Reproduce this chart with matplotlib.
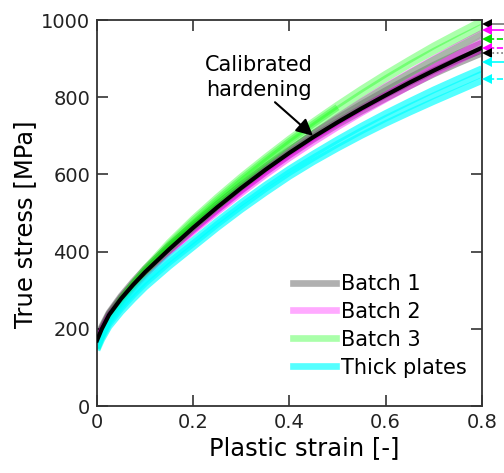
import matplotlib
matplotlib.use("Agg")
import matplotlib.pyplot as plt
from matplotlib.lines import Line2D

# Plastic strain sampling points
strain = [0.0, 0.01, 0.025, 0.05, 0.075, 0.1, 0.15, 0.2, 0.25, 0.3, 0.35, 0.4,
          0.45, 0.5, 0.55, 0.6, 0.65, 0.7, 0.75, 0.8]

# Calibrated hardening curve [MPa]
calibrated = [170, 200, 236, 278, 314, 347, 406, 462, 515, 565, 612, 656,
              697, 735, 771, 805, 838, 869, 899, 928]

# Batch 1 specimens [MPa]
batch1 = [
    [168, 197, 233, 274, 310, 343, 402, 457, 509, 559, 606, 650, 691, 729, 764, 797, 829, 860, 888, 914],
    [172, 202, 239, 281, 317, 350, 410, 464, 516, 566, 613, 657, 698, 736, 772, 806, 838, 869, 897, 922],
    [175, 206, 242, 285, 322, 356, 416, 470, 523, 573, 620, 664, 706, 745, 782, 817, 851, 883, 913, 940],
]
# Batch 2 specimens [MPa]
batch2 = [
    [162, 192, 228, 270, 306, 339, 398, 452, 503, 552, 599, 643, 684, 723, 760, 795, 829, 862, 894, 925],
    [163, 193, 230, 272, 308, 342, 401, 456, 508, 558, 606, 651, 694, 734, 772, 808, 843, 878, 913, 948],
    [164, 195, 232, 274, 311, 345, 404, 460, 513, 564, 613, 660, 705, 748, 789, 828, 864, 899, 933, 966],
]
# Batch 3 specimens [MPa]; the last one stops at 0.5 strain
batch3 = [
    [150, 182, 221, 266, 305, 340, 404, 462, 516, 567, 616, 662, 706, 748, 788, 826, 862, 897, 930, 962],
    [148, 182, 222, 269, 310, 347, 413, 473, 529, 582, 632, 680, 725, 768, 809, 848, 885, 919, 951, 982],
    [152, 187, 228, 277, 318, 356, 424, 485, 541, 594, 644, 692, 737, 780, 821, 860, 897, 933, 966, 998],
    [151, 186, 226, 274, 315, 352, 419, 480, 535, 588, 638, 686, 731, 774],
]
# Thick plate specimens [MPa]
thick = [
    [145, 173, 206, 244, 277, 308, 362, 412, 462, 509, 553, 595, 633, 668, 701, 732, 761, 789, 816, 843],
    [150, 178, 213, 253, 287, 318, 372, 421, 471, 518, 563, 605, 643, 679, 713, 745, 775, 804, 832, 860],
    [155, 184, 219, 259, 294, 325, 380, 429, 479, 527, 572, 614, 653, 690, 725, 758, 789, 819, 847, 874],
]

# Ultimate stress markers beyond the right axis edge [MPa]
uts_values = [990, 975, 952, 927, 914, 892, 847]
uts_marker_colors = ["black", "magenta", "#00dd00", "magenta", "black", "cyan", "cyan"]
uts_line_colors = ["#777777", "magenta", "#00dd00", "magenta", "#777777", "cyan", "cyan"]
uts_line_styles = ["-", "-", "--", "--", ":", "-", "--"]

legend_labels = ["Batch 1", "Batch 2", "Batch 3", "Thick plates"]
x_ticks = [0, 0.2, 0.4, 0.6, 0.8]
x_tick_labels = ["0", "0.2", "0.4", "0.6", "0.8"]
y_ticks = [0, 200, 400, 600, 800, 1000]

plt.rcParams["font.family"] = ["DejaVu Sans"]

fig = plt.figure(figsize=(5.04, 4.73), dpi=100)
ax = fig.add_axes([0.1925, 0.1416, 0.7635, 0.8161])

# (curves, colour, line alpha, legend colour)
band_styles = [
    (batch1, "#000000", 0.32, "#b0b0b0"),
    (batch2, "#ff00ff", 0.42, "#ffaaff"),
    (batch3, "#00ff00", 0.33, "#aaffaa"),
    (thick, "#00ffff", 0.67, "#55ffff"),
]
lw_band = 4.8
for curves, color, alpha, _ in band_styles:
    for c in curves:
        ax.plot(strain[:len(c)], c, color=color, alpha=alpha, lw=lw_band,
                solid_capstyle="butt")

ax.plot(strain, calibrated, color="black", lw=3.0, zorder=5)

# markers and guide lines to the right of the plotting area
for v, mc, lc, ls in zip(uts_values, uts_marker_colors, uts_line_colors, uts_line_styles):
    ax.plot([0.812, 0.9], [v, v], color=lc, ls=ls, lw=1.2, clip_on=False, zorder=6)
    ax.plot([0.8115], [v], marker="<", color=mc, ms=7.5, clip_on=False, zorder=7,
            markeredgewidth=0)

ax.text(0.337, 852, "Calibrated\nhardening", ha="center", va="center",
        fontsize=15, linespacing=1.3)
ax.annotate("", xy=(0.449, 700), xytext=(0.370, 787),
            arrowprops=dict(arrowstyle="-|>", color="black", lw=1.5,
                            mutation_scale=25, shrinkA=0, shrinkB=0))

handles = [Line2D([], [], color=lc, lw=lw_band) for _, _, _, lc in band_styles]
ax.legend(handles, legend_labels, loc="lower right", frameon=False, fontsize=15,
          handlelength=2.1, handletextpad=0.25, labelspacing=0.38,
          borderaxespad=0.3, bbox_to_anchor=(1.0, 0.036))

ax.set_xlim(0, 0.8)
ax.set_ylim(0, 1000)
ax.set_xticks(x_ticks)
ax.set_xticklabels(x_tick_labels)
ax.set_yticks(y_ticks)
ax.tick_params(direction="in", top=True, right=True, length=8, width=1.1,
               labelsize=14, colors="#222222", pad=5)
for sp in ax.spines.values():
    sp.set_linewidth(1.3)
    sp.set_color("#333333")

ax.set_xlabel("Plastic strain [-]", fontsize=17.5, labelpad=3)
ax.set_ylabel("True stress [MPa]", fontsize=17.5, labelpad=3)
ax.xaxis.label.set_x(0.538)
ax.yaxis.label.set_y(0.47)

fig.savefig("out.png", dpi=100)
